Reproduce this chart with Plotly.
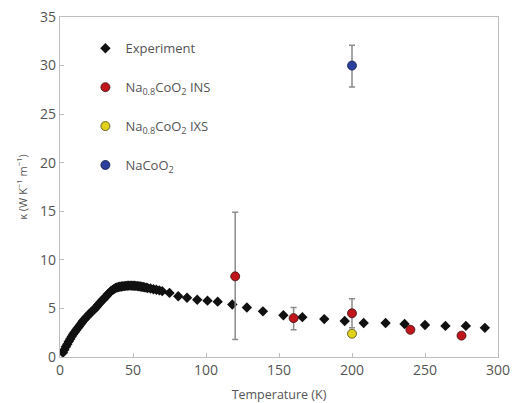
import plotly.graph_objects as go

# Experiment (temperature K, kappa W/K/m)
exp_T = [2, 3, 4, 5, 6, 7, 8, 9, 10, 11, 12, 13, 14, 15, 16, 17, 18, 19, 20, 21,
         22, 23, 24, 25, 26, 27, 28, 29, 30, 31, 32, 33, 34, 35, 36, 37, 38, 39, 40,
         41, 42, 43, 44, 45, 46, 47, 48, 49, 50, 51, 52, 53, 54, 55, 56, 57, 58, 59, 60,
         62, 64, 66, 68, 70,
         75, 81, 87, 94, 101, 108, 118, 128, 139, 153, 166, 181, 195, 208, 223, 236,
         250, 264, 278, 291]
exp_k = [0.45, 0.75, 1.05, 1.3, 1.6, 1.85, 2.1, 2.35, 2.55, 2.75, 2.95, 3.15, 3.35, 3.55,
         3.75, 3.9, 4.1, 4.25, 4.4, 4.55, 4.7, 4.85, 5.0, 5.15, 5.35, 5.5, 5.7, 5.85, 6.0,
         6.15, 6.3, 6.5, 6.65, 6.8, 6.9, 7.0, 7.1, 7.15, 7.2,
         7.23, 7.26, 7.28, 7.3, 7.32, 7.34, 7.35, 7.35, 7.35, 7.34, 7.33, 7.32, 7.3, 7.28,
         7.26, 7.23, 7.2, 7.17, 7.14, 7.1,
         7.05, 6.98, 6.92, 6.86, 6.78,
         6.6, 6.25, 6.1, 5.9, 5.8, 5.7, 5.4, 5.1, 4.7, 4.3, 4.1, 3.9, 3.7, 3.5, 3.5, 3.4,
         3.3, 3.2, 3.2, 3.0]

# Na0.8CoO2 INS
ins_T = [120, 160, 200, 240, 275]
ins_k = [8.3, 4.0, 4.5, 2.8, 2.2]
ins_up = [6.6, 1.1, 1.5, 0, 0]
ins_dn = [6.5, 1.2, 1.5, 0, 0]

# Na0.8CoO2 IXS
ixs_T = [200]
ixs_k = [2.4]

# NaCoO2
na_T = [200]
na_k = [30.0]
na_up = [2.1]
na_dn = [2.2]

GRAY = "#555555"
ERR = "#8a8a8a"
FONT = "Open Sans, sans-serif"

fig = go.Figure()
fig.add_trace(go.Scatter(
    x=exp_T, y=exp_k, mode="markers", name="Experiment", legendgroup="a",
    marker=dict(symbol="diamond", size=8, color="#111111"),
))
fig.add_trace(go.Scatter(
    x=ins_T, y=ins_k, mode="markers", name="Na<sub>0.8</sub>CoO<sub>2</sub> INS", legendgroup="b",
    marker=dict(symbol="circle", size=9, color="#c0151b", line=dict(color="#3a1010", width=0.8)),
    error_y=dict(type="data", symmetric=False, array=ins_up, arrayminus=ins_dn,
                 color=ERR, thickness=1.5, width=3),
))
fig.add_trace(go.Scatter(
    x=ixs_T, y=ixs_k, mode="markers", name="Na<sub>0.8</sub>CoO<sub>2</sub> IXS", legendgroup="c",
    marker=dict(symbol="circle", size=9, color="#e0d21a", line=dict(color="#4a4410", width=0.8)),
))
fig.add_trace(go.Scatter(
    x=na_T, y=na_k, mode="markers", name="NaCoO<sub>2</sub>", legendgroup="d",
    marker=dict(symbol="circle", size=9, color="#2b3f9e", line=dict(color="#101a40", width=0.8)),
    error_y=dict(type="data", symmetric=False, array=na_up, arrayminus=na_dn,
                 color=ERR, thickness=1.5, width=3),
))

axis_common = dict(
    showline=True, linecolor="#bdbdbd", linewidth=1.2, mirror=True,
    ticks="inside", ticklen=4, tickcolor="#bdbdbd",
    showgrid=False, zeroline=False, automargin=False,
    tickfont=dict(family=FONT, size=14, color=GRAY),
)

fig.update_layout(
    width=513, height=403,
    margin=dict(l=60, r=15, t=17, b=46),
    plot_bgcolor="white", paper_bgcolor="white",
    xaxis=dict(range=[0, 300], tickvals=[0, 50, 100, 150, 200, 250, 300],
               title=dict(text="Temperature (K)", standoff=13,
                          font=dict(family=FONT, size=12.5, color=GRAY)),
               **axis_common),
    yaxis=dict(range=[0, 35], tickvals=[0, 5, 10, 15, 20, 25, 30, 35],
               title=dict(text="κ (W K<sup>−1</sup> m<sup>−1</sup>)", standoff=10,
                          font=dict(family=FONT, size=11, color=GRAY)),
               **axis_common),
    legend=dict(x=0.058, y=0.952, xanchor="left", yanchor="top",
                traceorder="grouped", tracegroupgap=19,
                bgcolor="rgba(0,0,0,0)",
                font=dict(family=FONT, size=13, color=GRAY)),
    showlegend=True,
)

fig.write_html("out.html", config={"displayModeBar": False},
               post_script="document.body.style.margin='0';document.body.style.overflow='hidden';")
